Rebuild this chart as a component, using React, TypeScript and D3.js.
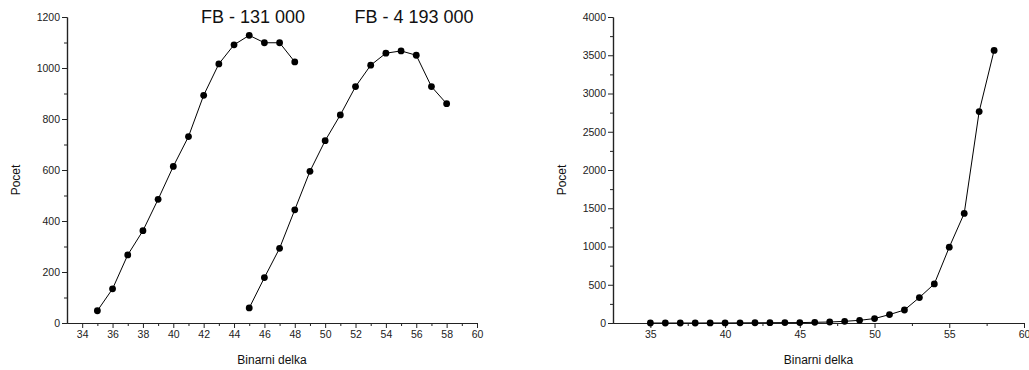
import React, { useEffect, useRef } from 'react'
import * as d3 from 'd3'

// left panel: two runs
const lengthsA = [35, 36, 37, 38, 39, 40, 41, 42, 43, 44, 45, 46, 47, 48]
const countsA = [48, 134, 267, 362, 485, 614, 731, 893, 1016, 1091, 1128, 1099, 1099, 1024]
const lengthsB = [45, 46, 47, 48, 49, 50, 51, 52, 53, 54, 55, 56, 57, 58]
const countsB = [59, 178, 293, 444, 595, 715, 816, 927, 1011, 1058, 1067, 1050, 927, 860]
const titleA = 'FB - 131 000'
const titleB = 'FB - 4 193 000'

// right panel
const lengthsC = [35, 36, 37, 38, 39, 40, 41, 42, 43, 44, 45, 46, 47, 48, 49, 50, 51, 52, 53, 54, 55, 56, 57, 58]
const countsC = [0, 0, 0, 0, 1, 1, 2, 3, 4, 5, 5, 9, 13, 22, 35, 58, 110, 170, 333, 511, 991, 1433, 2764, 3563]

const leftXTicks = [34, 36, 38, 40, 42, 44, 46, 48, 50, 52, 54, 56, 58, 60]
const leftXMinor = [35, 37, 39, 41, 43, 45, 47, 49, 51, 53, 55, 57, 59]
const leftYTicks = [0, 200, 400, 600, 800, 1000, 1200]
const leftYMinor = [100, 300, 500, 700, 900, 1100]
const rightXTicks = [35, 40, 45, 50, 55, 60]
const rightXMinor = [37.5, 42.5, 47.5, 52.5, 57.5]
const rightYTicks = [0, 500, 1000, 1500, 2000, 2500, 3000, 3500, 4000]
const rightYMinor = [250, 750, 1250, 1750, 2250, 2750, 3250, 3750]

const xLabel = 'Binarni delka'
const yLabel = 'Pocet'
const font = '"Liberation Sans", Arial, sans-serif'

const drawPanel = (svg, cfg) => {
    const x = d3.scaleLinear().domain(cfg.xDomain).range(cfg.xRange)
    const y = d3.scaleLinear().domain(cfg.yDomain).range(cfg.yRange)
    const g = svg.append('g')
    const fmt = d3.format('d')

    const xAxis = d3.axisBottom(x).tickValues(cfg.xTicks).tickFormat(fmt).tickSize(5).tickPadding(3).tickSizeOuter(0)
    const xMinor = d3.axisBottom(x).tickValues(cfg.xMinor).tickSize(3).tickFormat(() => '').tickSizeOuter(0)
    const yAxis = d3.axisLeft(y).tickValues(cfg.yTicks).tickFormat(fmt).tickSize(5).tickPadding(2).tickSizeOuter(0)
    const yMinor = d3.axisLeft(y).tickValues(cfg.yMinor).tickSize(3).tickFormat(() => '').tickSizeOuter(0)

    const yBase = cfg.yRange[0]
    const xBase = cfg.xRange[0]
    g.append('g').attr('transform', `translate(0,${yBase})`).call(xMinor)
    g.append('g').attr('transform', `translate(0,${yBase})`).call(xAxis)
    g.append('g').attr('transform', `translate(${xBase},0)`).call(yMinor)
    g.append('g').attr('transform', `translate(${xBase},0)`).call(yAxis)

    g.selectAll('.domain').attr('stroke', '#222').attr('stroke-width', 1.2)
    g.selectAll('.tick line').attr('stroke', '#222')
    g.selectAll('.tick text').attr('font-family', font).attr('font-size', 10.5).attr('fill', '#222')

    const lineGen = d3.line().x(d => x(d[0])).y(d => y(d[1]))
    cfg.series.forEach(s => {
        const pts = s.xs.map((v, i) => [v, s.ys[i]])
        g.append('path').attr('d', lineGen(pts)).attr('fill', 'none').attr('stroke', '#000').attr('stroke-width', 1)
        g.selectAll(null).data(pts).join('circle')
            .attr('cx', d => x(d[0])).attr('cy', d => y(d[1])).attr('r', 3.4).attr('fill', '#000')
    })

    const midX = (cfg.xRange[0] + cfg.xRange[1]) / 2
    g.append('text').attr('x', midX).attr('y', 364).attr('text-anchor', 'middle')
        .attr('font-family', font).attr('font-size', 12).attr('fill', '#111').text(xLabel)
    g.append('text').attr('transform', `translate(${cfg.yLabelX},180) rotate(-90)`).attr('text-anchor', 'middle')
        .attr('font-family', font).attr('font-size', 12).attr('fill', '#111').text(yLabel)

    ;(cfg.titles || []).forEach(t => {
        g.append('text').attr('x', t.x).attr('y', 23).attr('text-anchor', 'middle')
            .attr('font-family', font).attr('font-size', 18).attr('fill', '#111').text(t.text)
    })
}

const App = () => {
    const svgRef = useRef(null)

    useEffect(() => {
        const svg = d3.select(svgRef.current)
        svg.selectAll('*').remove()

        drawPanel(svg, {
            xDomain: [33, 60], xRange: [67, 477],
            yDomain: [0, 1200], yRange: [323, 17],
            xTicks: leftXTicks, xMinor: leftXMinor, yTicks: leftYTicks, yMinor: leftYMinor,
            yLabelX: 20,
            series: [{ xs: lengthsA, ys: countsA }, { xs: lengthsB, ys: countsB }],
            titles: [{ text: titleA, x: 253 }, { text: titleB, x: 414 }]
        })

        drawPanel(svg, {
            xDomain: [32.5, 60], xRange: [613, 1024],
            yDomain: [0, 4000], yRange: [323, 17],
            xTicks: rightXTicks, xMinor: rightXMinor, yTicks: rightYTicks, yMinor: rightYMinor,
            yLabelX: 566,
            series: [{ xs: lengthsC, ys: countsC }]
        })
    }, [])

    return (
        <svg ref={svgRef} width={1029} height={370}
            style={{ position: 'absolute', left: 0, top: 0, background: '#fff' }} />
    )
}

export default App
